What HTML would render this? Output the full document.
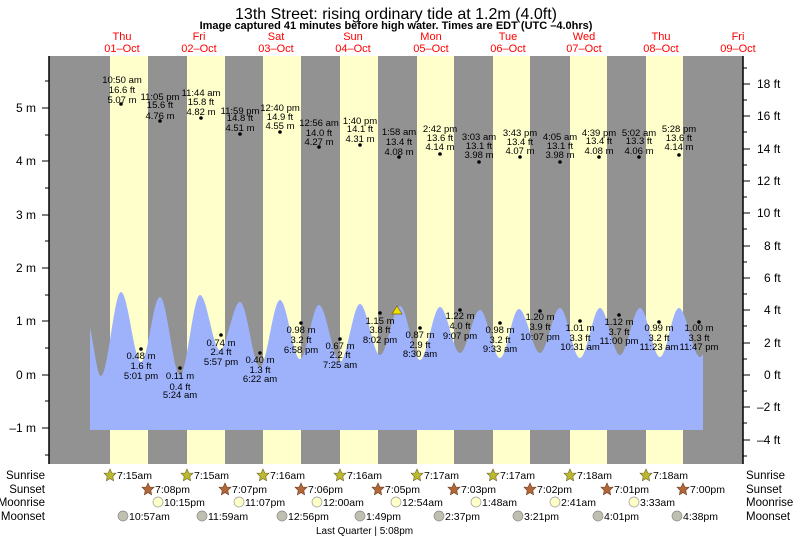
<!DOCTYPE html>
<html><head><meta charset="utf-8"><style>
body{margin:0;background:#fff;}
svg{display:block;font-family:"Liberation Sans",Arial,sans-serif;}
</style></head><body>
<svg width="793" height="538" viewBox="0 0 793 538" xmlns="http://www.w3.org/2000/svg">
<rect x="0" y="0" width="793" height="538" fill="#fff"/>
<text x="396" y="19" font-size="16" text-anchor="middle" fill="#000">13th Street: rising  ordinary tide at 1.2m (4.0ft)</text>
<text x="396" y="29" font-size="11" font-weight="bold" text-anchor="middle" fill="#000">Image captured 41 minutes before high water. Times are EDT (UTC –4.0hrs)</text>
<g font-size="11" fill="#ff0000" text-anchor="middle">
<text x="122" y="40">Thu</text><text x="122" y="52">01–Oct</text>
<text x="199" y="40">Fri</text><text x="199" y="52">02–Oct</text>
<text x="276" y="40">Sat</text><text x="276" y="52">03–Oct</text>
<text x="353" y="40">Sun</text><text x="353" y="52">04–Oct</text>
<text x="431" y="40">Mon</text><text x="431" y="52">05–Oct</text>
<text x="508" y="40">Tue</text><text x="508" y="52">06–Oct</text>
<text x="584" y="40">Wed</text><text x="584" y="52">07–Oct</text>
<text x="661" y="40">Thu</text><text x="661" y="52">08–Oct</text>
<text x="738" y="40">Fri</text><text x="738" y="52">09–Oct</text>
</g>
<rect x="49" y="56" width="694" height="408" fill="#929292"/>
<g fill="#ffffcc">
<rect x="110" y="56" width="38" height="408"/><rect x="187" y="56" width="38" height="408"/>
<rect x="263" y="56" width="38" height="408"/><rect x="340" y="56" width="38" height="408"/>
<rect x="417" y="56" width="37" height="408"/><rect x="493" y="56" width="37" height="408"/>
<rect x="570" y="56" width="37" height="408"/><rect x="646" y="56" width="37" height="408"/>
</g>
<path fill="#9eb2fc" d="M90,328 C94,345 97,376 101,376 C108,376 114,292 121,292 C128,292 134,362 141,362 C148,362 153,297 160,297 C167,297 173,375 180,375 C187,375 193,295 200,295 C207,295 213,350 220,350 C227,350 233,302 240,302 C247,302 253,367 260,367 C267,367 273,300 280,300 C287,300 293,359 300,359 C307,359 312,305 319,305 C326,305 333,362 340,362 C347,362 353,304 360,304 C367,304 373,355 380,355 C387,355 393,306 400,306 C407,306 413,360 420,360 C427,360 433,307 440,307 C447,307 453,353 460,353 C467,353 473,310 480,310 C487,310 493,358 500,358 C507,358 512,309 519,309 C526,309 533,353 540,353 C547,353 553,308 560,308 C567,308 573,358 580,358 C587,358 593,308 600,308 C607,308 613,355 620,355 C627,355 633,308 640,308 C647,308 653,357 660,357 C667,357 672,308 679,308 C686,308 693,357 700,357 C701,357 702,356 703,354 L703,430 L90,430 Z"/>
<line x1="49" y1="56" x2="49" y2="464" stroke="#000" stroke-width="1.5"/>
<line x1="743" y1="56" x2="743" y2="464" stroke="#000" stroke-width="1.5"/>
<g stroke="#000" stroke-width="1">
<line x1="42" y1="108" x2="49" y2="108"/><line x1="42" y1="161" x2="49" y2="161"/><line x1="42" y1="215" x2="49" y2="215"/><line x1="42" y1="268" x2="49" y2="268"/><line x1="42" y1="321" x2="49" y2="321"/><line x1="42" y1="375" x2="49" y2="375"/><line x1="42" y1="428" x2="49" y2="428"/>
<line x1="45" y1="81" x2="49" y2="81"/><line x1="45" y1="135" x2="49" y2="135"/><line x1="45" y1="188" x2="49" y2="188"/><line x1="45" y1="241" x2="49" y2="241"/><line x1="45" y1="295" x2="49" y2="295"/><line x1="45" y1="348" x2="49" y2="348"/><line x1="45" y1="401" x2="49" y2="401"/><line x1="45" y1="455" x2="49" y2="455"/>
<line x1="743" y1="84" x2="750" y2="84"/><line x1="743" y1="116" x2="750" y2="116"/><line x1="743" y1="149" x2="750" y2="149"/><line x1="743" y1="181" x2="750" y2="181"/><line x1="743" y1="213" x2="750" y2="213"/><line x1="743" y1="246" x2="750" y2="246"/><line x1="743" y1="278" x2="750" y2="278"/><line x1="743" y1="310" x2="750" y2="310"/><line x1="743" y1="343" x2="750" y2="343"/><line x1="743" y1="375" x2="750" y2="375"/><line x1="743" y1="407" x2="750" y2="407"/><line x1="743" y1="440" x2="750" y2="440"/>
<line x1="743" y1="68" x2="747" y2="68"/><line x1="743" y1="100" x2="747" y2="100"/><line x1="743" y1="132" x2="747" y2="132"/><line x1="743" y1="165" x2="747" y2="165"/><line x1="743" y1="197" x2="747" y2="197"/><line x1="743" y1="229" x2="747" y2="229"/><line x1="743" y1="262" x2="747" y2="262"/><line x1="743" y1="294" x2="747" y2="294"/><line x1="743" y1="326" x2="747" y2="326"/><line x1="743" y1="359" x2="747" y2="359"/><line x1="743" y1="391" x2="747" y2="391"/><line x1="743" y1="423" x2="747" y2="423"/><line x1="743" y1="456" x2="747" y2="456"/>
</g>
<g font-size="12" fill="#000" text-anchor="end">
<text x="36" y="112">5 m</text><text x="36" y="165">4 m</text><text x="36" y="219">3 m</text><text x="36" y="272">2 m</text><text x="36" y="325">1 m</text><text x="36" y="379">0 m</text><text x="36" y="432">–1 m</text>
</g>
<g font-size="12" fill="#000">
<text x="757" y="88">18 ft</text><text x="757" y="120">16 ft</text><text x="757" y="153">14 ft</text><text x="757" y="185">12 ft</text><text x="757" y="217">10 ft</text><text x="764" y="250">8 ft</text><text x="764" y="282">6 ft</text><text x="764" y="314">4 ft</text><text x="764" y="347">2 ft</text><text x="764" y="379">0 ft</text><text x="757" y="411">–2 ft</text><text x="757" y="444">–4 ft</text>
</g>
<g font-size="9.5" fill="#000" text-anchor="middle">
<circle cx="121" cy="104" r="1.8"/><text x="122" y="83">10:50 am</text><text x="122" y="93">16.6 ft</text><text x="122" y="103">5.07 m</text>
<circle cx="160" cy="121" r="1.8"/><text x="160" y="100">11:05 pm</text><text x="160" y="108">15.6 ft</text><text x="160" y="119">4.76 m</text>
<circle cx="201" cy="118" r="1.8"/><text x="201" y="96">11:44 am</text><text x="201" y="105">15.8 ft</text><text x="201" y="115">4.82 m</text>
<circle cx="240" cy="134" r="1.8"/><text x="240" y="114">11:59 pm</text><text x="240" y="121">14.8 ft</text><text x="240" y="131">4.51 m</text>
<circle cx="280" cy="132" r="1.8"/><text x="280" y="111">12:40 pm</text><text x="280" y="120">14.9 ft</text><text x="280" y="129">4.55 m</text>
<circle cx="319" cy="147" r="1.8"/><text x="319" y="126">12:56 am</text><text x="319" y="136">14.0 ft</text><text x="319" y="145">4.27 m</text>
<circle cx="360" cy="145" r="1.8"/><text x="360" y="124">1:40 pm</text><text x="360" y="132">14.1 ft</text><text x="360" y="142">4.31 m</text>
<circle cx="399" cy="157" r="1.8"/><text x="399" y="135">1:58 am</text><text x="399" y="145">13.4 ft</text><text x="399" y="155">4.08 m</text>
<circle cx="440" cy="154" r="1.8"/><text x="440" y="132">2:42 pm</text><text x="440" y="141">13.6 ft</text><text x="440" y="150">4.14 m</text>
<circle cx="479" cy="162" r="1.8"/><text x="479" y="140">3:03 am</text><text x="479" y="149">13.1 ft</text><text x="479" y="158">3.98 m</text>
<circle cx="520" cy="157" r="1.8"/><text x="520" y="136">3:43 pm</text><text x="520" y="145">13.4 ft</text><text x="520" y="154">4.07 m</text>
<circle cx="560" cy="162" r="1.8"/><text x="560" y="140">4:05 am</text><text x="560" y="149">13.1 ft</text><text x="560" y="158">3.98 m</text>
<circle cx="599" cy="157" r="1.8"/><text x="599" y="136">4:39 pm</text><text x="599" y="144">13.4 ft</text><text x="599" y="154">4.08 m</text>
<circle cx="639" cy="157" r="1.8"/><text x="639" y="136">5:02 am</text><text x="639" y="144">13.3 ft</text><text x="639" y="154">4.06 m</text>
<circle cx="679" cy="155" r="1.8"/><text x="679" y="132">5:28 pm</text><text x="679" y="141">13.6 ft</text><text x="679" y="150">4.14 m</text>

<circle cx="141" cy="349" r="1.8"/><text x="141" y="359">0.48 m</text><text x="141" y="369">1.6 ft</text><text x="141" y="379">5:01 pm</text>
<circle cx="180" cy="368" r="1.8"/><text x="180" y="379">0.11 m</text><text x="180" y="390">0.4 ft</text><text x="180" y="398">5:24 am</text>
<circle cx="221" cy="335" r="1.8"/><text x="221" y="346">0.74 m</text><text x="221" y="355">2.4 ft</text><text x="221" y="365">5:57 pm</text>
<circle cx="260" cy="353" r="1.8"/><text x="260" y="363">0.40 m</text><text x="260" y="373">1.3 ft</text><text x="260" y="382">6:22 am</text>
<circle cx="301" cy="323" r="1.8"/><text x="301" y="333">0.98 m</text><text x="301" y="343">3.2 ft</text><text x="301" y="353">6:58 pm</text>
<circle cx="340" cy="339" r="1.8"/><text x="340" y="349">0.67 m</text><text x="340" y="358">2.2 ft</text><text x="340" y="368">7:25 am</text>
<circle cx="380" cy="313" r="1.8"/><text x="380" y="324">1.15 m</text><text x="380" y="333">3.8 ft</text><text x="380" y="343">8:02 pm</text>
<circle cx="420" cy="328" r="1.8"/><text x="420" y="338">0.87 m</text><text x="420" y="348">2.9 ft</text><text x="420" y="357">8:30 am</text>
<circle cx="460" cy="310" r="1.8"/><text x="460" y="319">1.22 m</text><text x="460" y="329">4.0 ft</text><text x="460" y="339">9:07 pm</text>
<circle cx="500" cy="323" r="1.8"/><text x="500" y="333">0.98 m</text><text x="500" y="343">3.2 ft</text><text x="500" y="352">9:33 am</text>
<circle cx="540" cy="311" r="1.8"/><text x="540" y="320">1.20 m</text><text x="540" y="330">3.9 ft</text><text x="540" y="340">10:07 pm</text>
<circle cx="580" cy="321" r="1.8"/><text x="580" y="331">1.01 m</text><text x="580" y="341">3.3 ft</text><text x="580" y="350">10:31 am</text>
<circle cx="619" cy="315" r="1.8"/><text x="619" y="325">1.12 m</text><text x="619" y="335">3.7 ft</text><text x="619" y="344">11:00 pm</text>
<circle cx="659" cy="322" r="1.8"/><text x="659" y="331">0.99 m</text><text x="659" y="341">3.2 ft</text><text x="659" y="350">11:23 am</text>
<circle cx="699" cy="322" r="1.8"/><text x="699" y="331">1.00 m</text><text x="699" y="341">3.3 ft</text><text x="699" y="350">11:47 pm</text>
</g>
<polygon points="397,306 392,314 402,314" fill="#f0e000" stroke="#806000" stroke-width="0.7"/>
<g font-size="11.5" fill="#000">
<text x="45" y="479" text-anchor="end">Sunrise</text><text x="45" y="493" text-anchor="end">Sunset</text><text x="45" y="506" text-anchor="end">Moonrise</text><text x="45" y="520" text-anchor="end">Moonset</text>
<text x="746" y="479">Sunrise</text><text x="746" y="493">Sunset</text><text x="746" y="506">Moonrise</text><text x="746" y="520">Moonset</text>
</g>
<defs>
<polygon id="st" points="0,-6 1.8,-2 6,-1.8 2.8,1.4 3.6,5.8 0,3.6 -3.6,5.8 -2.8,1.4 -6,-1.8 -1.8,-2"/>
</defs>
<g font-size="10.5" fill="#000">
<g fill="#bcb830" stroke="#6a6420" stroke-width="0.6">
<use href="#st" x="110" y="475"/><use href="#st" x="187" y="475"/><use href="#st" x="263" y="475"/><use href="#st" x="340" y="475"/><use href="#st" x="417" y="475"/><use href="#st" x="493" y="475"/><use href="#st" x="570" y="475"/><use href="#st" x="646" y="475"/>
</g>
<text x="117" y="479">7:15am</text><text x="194" y="479">7:15am</text><text x="270" y="479">7:16am</text><text x="347" y="479">7:16am</text><text x="424" y="479">7:17am</text><text x="500" y="479">7:17am</text><text x="577" y="479">7:18am</text><text x="653" y="479">7:18am</text>
<g fill="#b06838" stroke="#6a3a20" stroke-width="0.6">
<use href="#st" x="148" y="489"/><use href="#st" x="225" y="489"/><use href="#st" x="301" y="489"/><use href="#st" x="378" y="489"/><use href="#st" x="454" y="489"/><use href="#st" x="530" y="489"/><use href="#st" x="607" y="489"/><use href="#st" x="683" y="489"/>
</g>
<text x="155" y="493">7:08pm</text><text x="232" y="493">7:07pm</text><text x="308" y="493">7:06pm</text><text x="385" y="493">7:05pm</text><text x="461" y="493">7:03pm</text><text x="537" y="493">7:02pm</text><text x="614" y="493">7:01pm</text><text x="690" y="493">7:00pm</text>
<g fill="#ffffc8" stroke="#999" stroke-width="0.7">
<circle cx="158" cy="502" r="5"/><circle cx="239" cy="502" r="5"/><circle cx="317" cy="502" r="5"/><circle cx="396" cy="502" r="5"/><circle cx="476" cy="502" r="5"/><circle cx="555" cy="502" r="5"/><circle cx="634" cy="502" r="5"/>
</g>
<text x="164" y="506">10:15pm</text><text x="245" y="506">11:07pm</text><text x="323" y="506">12:00am</text><text x="402" y="506">12:54am</text><text x="482" y="506">1:48am</text><text x="561" y="506">2:41am</text><text x="640" y="506">3:33am</text>
<g fill="#c0c0b0" stroke="#888" stroke-width="0.7">
<circle cx="123" cy="516" r="5"/><circle cx="202" cy="516" r="5"/><circle cx="282" cy="516" r="5"/><circle cx="360" cy="516" r="5"/><circle cx="439" cy="516" r="5"/><circle cx="518" cy="516" r="5"/><circle cx="598" cy="516" r="5"/><circle cx="677" cy="516" r="5"/>
</g>
<text x="129" y="520">10:57am</text><text x="208" y="520">11:59am</text><text x="288" y="520">12:56pm</text><text x="366" y="520">1:49pm</text><text x="445" y="520">2:37pm</text><text x="524" y="520">3:21pm</text><text x="604" y="520">4:01pm</text><text x="683" y="520">4:38pm</text>
<text x="316" y="534" font-size="10">Last Quarter | 5:08pm</text>
</g>
</svg>
</body></html>
